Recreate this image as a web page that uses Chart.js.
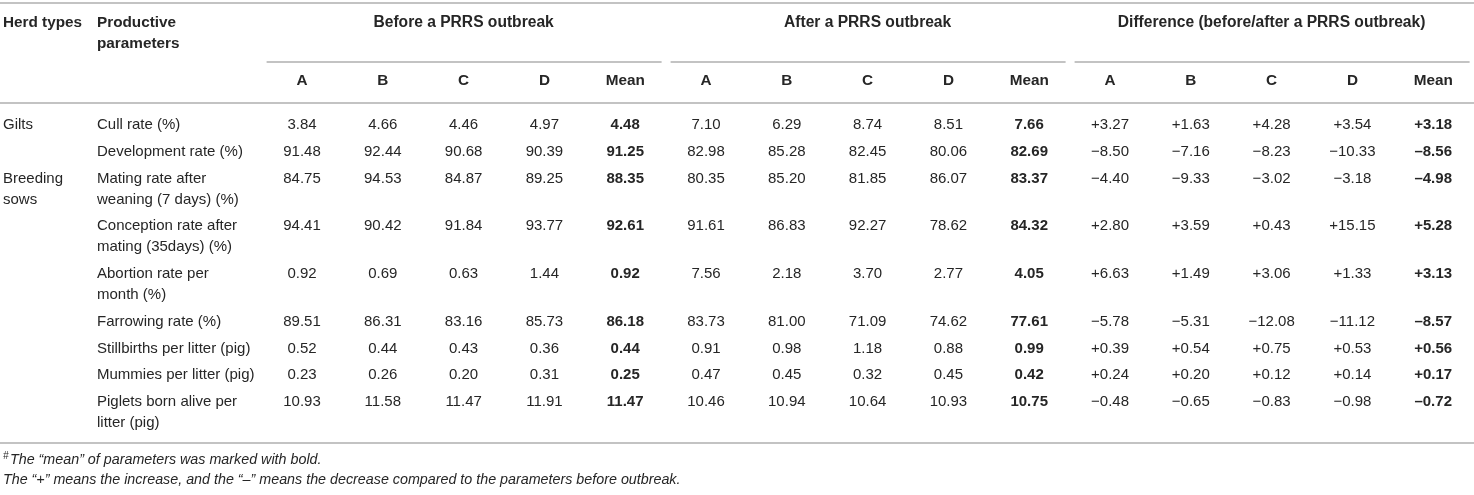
<!DOCTYPE html>
<html>
<head>
<meta charset="utf-8">
<script src="https://cdn.jsdelivr.net/npm/chart.js@4/dist/chart.umd.min.js"></script>
<style>
  html, body { margin: 0; padding: 0; background: #ffffff; }
  #wrap { width: 1474px; height: 495px; }
</style>
</head>
<body>
<div id="wrap"><canvas id="c" width="1474" height="495"></canvas></div>
<script>
// ---------------- data ----------------
const groups = ['Before a PRRS outbreak', 'After a PRRS outbreak', 'Difference (before/after a PRRS outbreak)'];
const subColumns = ['A', 'B', 'C', 'D', 'Mean'];
const herdTypes = ['Gilts', '', 'Breeding\nsows', '', '', '', '', '', ''];
const parameters = [
  'Cull rate (%)',
  'Development rate (%)',
  'Mating rate after\nweaning (7 days) (%)',
  'Conception rate after\nmating (35days) (%)',
  'Abortion rate per\nmonth (%)',
  'Farrowing rate (%)',
  'Stillbirths per litter (pig)',
  'Mummies per litter (pig)',
  'Piglets born alive per\nlitter (pig)'
];

const beforeA    = [3.84, 91.48, 84.75, 94.41, 0.92, 89.51, 0.52, 0.23, 10.93];
const beforeB    = [4.66, 92.44, 94.53, 90.42, 0.69, 86.31, 0.44, 0.26, 11.58];
const beforeC    = [4.46, 90.68, 84.87, 91.84, 0.63, 83.16, 0.43, 0.20, 11.47];
const beforeD    = [4.97, 90.39, 89.25, 93.77, 1.44, 85.73, 0.36, 0.31, 11.91];
const beforeMean = [4.48, 91.25, 88.35, 92.61, 0.92, 86.18, 0.44, 0.25, 11.47];

const afterA    = [7.10, 82.98, 80.35, 91.61, 7.56, 83.73, 0.91, 0.47, 10.46];
const afterB    = [6.29, 85.28, 85.20, 86.83, 2.18, 81.00, 0.98, 0.45, 10.94];
const afterC    = [8.74, 82.45, 81.85, 92.27, 3.70, 71.09, 1.18, 0.32, 10.64];
const afterD    = [8.51, 80.06, 86.07, 78.62, 2.77, 74.62, 0.88, 0.45, 10.93];
const afterMean = [7.66, 82.69, 83.37, 84.32, 4.05, 77.61, 0.99, 0.42, 10.75];

const diffA    = [3.27, -8.50, -4.40, 2.80, 6.63, -5.78, 0.39, 0.24, -0.48];
const diffB    = [1.63, -7.16, -9.33, 3.59, 1.49, -5.31, 0.54, 0.20, -0.65];
const diffC    = [4.28, -8.23, -3.02, 0.43, 3.06, -12.08, 0.75, 0.12, -0.83];
const diffD    = [3.54, -10.33, -3.18, 15.15, 1.33, -11.12, 0.53, 0.14, -0.98];
const diffMean = [3.18, -8.56, -4.98, 5.28, 3.13, -8.57, 0.56, 0.17, -0.72];

const footnote1 = 'The \u201cmean\u201d of parameters was marked with bold.';
const footnote2 = 'The \u201c+\u201d means the increase, and the \u201c\u2013\u201d means the decrease compared to the parameters before outbreak.';

// ---------------- layout / style ----------------
const FONT = "'Liberation Sans', Arial, Helvetica, sans-serif";
const TEXT = '#262626';
const RULE = '#c3c3c3';
const LINE_EXTRA = 0.78;   // extra height (in row units) of a second text line
const LINE_PX = 21;        // pixel pitch of wrapped lines

const valueColumns = [
  [beforeA, beforeB, beforeC, beforeD, beforeMean],
  [afterA, afterB, afterC, afterD, afterMean],
  [diffA, diffB, diffC, diffD, diffMean]
];

// row positions (in row units) derived from how many lines each label needs
const rowPos = [];
(function () {
  let acc = 0;
  parameters.forEach((p, i) => {
    rowPos.push(acc);
    const lines = Math.max(p.split('\n').length, herdTypes[i].split('\n').length);
    acc += 1 + LINE_EXTRA * (lines - 1);
  });
})();
const lastLines = parameters[parameters.length - 1].split('\n').length;
const yMax = rowPos[rowPos.length - 1] + LINE_EXTRA * (lastLines - 1) + 0.75;

const colKeys = [];
groups.forEach((g, gi) => subColumns.forEach(s => colKeys.push(gi + '|' + s)));

function fmt(v, gi, bold) {
  if (gi < 2) return v.toFixed(2);
  const s = Math.abs(v).toFixed(2);
  if (v >= 0) return '+' + s;
  return (bold ? '\u2013' : '\u2212') + s;
}

const datasets = [];
valueColumns.forEach((cols, gi) => {
  cols.forEach((arr, si) => {
    datasets.push({
      label: groups[gi] + ' ' + subColumns[si],
      groupIndex: gi,
      isMean: subColumns[si] === 'Mean',
      values: arr,
      data: arr.map((v, r) => ({ x: gi + '|' + subColumns[si], y: rowPos[r] })),
      pointRadius: 0,
      pointHoverRadius: 0,
      showLine: false
    });
  });
});

function hline(ctx, x1, x2, y) {
  ctx.save();
  ctx.strokeStyle = RULE;
  ctx.lineWidth = 2;
  ctx.beginPath();
  ctx.moveTo(x1, y);
  ctx.lineTo(x2, y);
  ctx.stroke();
  ctx.restore();
}

function multiText(ctx, str, x, y) {
  str.split('\n').forEach((line, i) => ctx.fillText(line, x, y + i * LINE_PX));
}

const tablePlugin = {
  id: 'tablePlugin',
  afterDatasetsDraw(chart) {
    const ctx = chart.ctx;
    const xs = chart.scales.x;
    const ys = chart.scales.y;
    const area = chart.chartArea;
    const W = chart.width;
    const band = xs.getPixelForValue(1) - xs.getPixelForValue(0);

    // rules
    hline(ctx, 0, W, 3);
    hline(ctx, 0, W, area.top);
    hline(ctx, 0, W, area.bottom);

    ctx.save();
    ctx.fillStyle = TEXT;
    ctx.textBaseline = 'middle';

    // header: left columns
    ctx.font = 'bold 15.3px ' + FONT;
    ctx.textAlign = 'left';
    ctx.fillText('Herd types', 3, 23);
    multiText(ctx, 'Productive\nparameters', 97, 23);

    // group headers + underlines + sub headers
    groups.forEach((g, gi) => {
      const first = xs.getPixelForValue(gi * subColumns.length);
      const last = xs.getPixelForValue(gi * subColumns.length + subColumns.length - 1);
      const left = first - band / 2;
      const right = last + band / 2;
      ctx.textAlign = 'center';
      ctx.font = 'bold 15.6px ' + FONT;
      ctx.fillText(g, (left + right) / 2, 23);
      hline(ctx, left + 5, right - 4, 62);
      ctx.font = 'bold 15.3px ' + FONT;
      subColumns.forEach((s, si) => {
        ctx.fillText(s, xs.getPixelForValue(gi * subColumns.length + si), 81);
      });
    });

    // row labels
    ctx.font = '15px ' + FONT;
    ctx.textAlign = 'left';
    parameters.forEach((p, r) => {
      const y = ys.getPixelForValue(rowPos[r]);
      if (herdTypes[r]) multiText(ctx, herdTypes[r], 3, y);
      multiText(ctx, p, 97, y);
    });

    // cell values, at the points placed by the scales
    ctx.textAlign = 'center';
    chart.data.datasets.forEach((ds, di) => {
      const meta = chart.getDatasetMeta(di);
      ctx.font = (ds.isMean ? 'bold ' : '') + '15px ' + FONT;
      meta.data.forEach((el, r) => {
        ctx.fillText(fmt(ds.values[r], ds.groupIndex, ds.isMean), el.x, el.y);
      });
    });

    // footnotes
    ctx.textAlign = 'left';
    ctx.font = 'italic 10px ' + FONT;
    ctx.fillText('#', 3, 456);
    ctx.font = 'italic 14.3px ' + FONT;
    ctx.fillText(footnote1, 10, 460);
    ctx.fillText(footnote2, 3, 480);
    ctx.restore();
  }
};

new Chart(document.getElementById('c'), {
  type: 'scatter',
  data: { labels: colKeys, datasets: datasets },
  options: {
    responsive: false,
    animation: false,
    events: [],
    layout: { padding: { left: 261.6, right: 0.4, top: 103, bottom: 52 } },
    plugins: { legend: { display: false }, tooltip: { enabled: false } },
    scales: {
      x: { type: 'category', labels: colKeys, offset: true, display: false },
      y: { type: 'linear', reverse: true, min: -0.82, max: yMax, display: false }
    }
  },
  plugins: [tablePlugin]
});
</script>
</body>
</html>
